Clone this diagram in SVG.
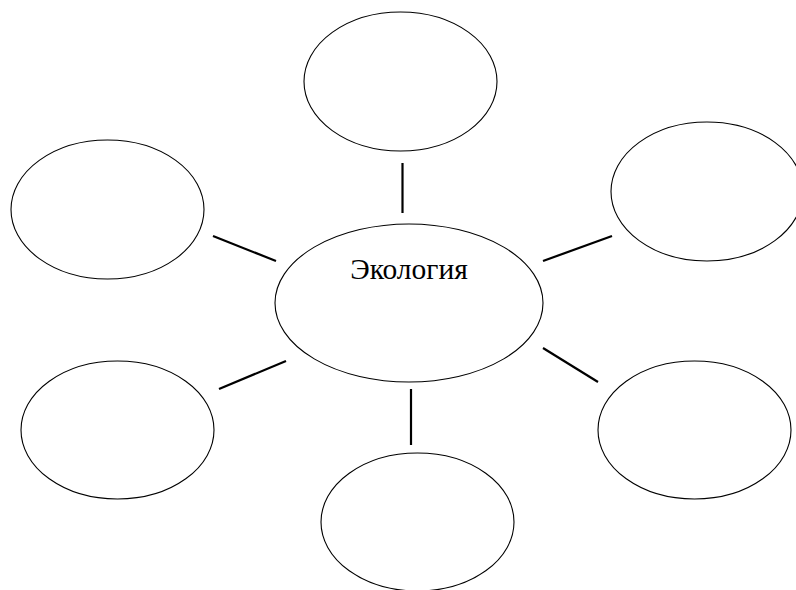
<svg xmlns="http://www.w3.org/2000/svg" width="796" height="590" viewBox="0 0 796 590">
<style>
.n{fill:none;stroke:#000;stroke-width:1.1}
.c line{stroke:#000;stroke-width:2.2}
.t{font-family:"Liberation Serif","Times New Roman",serif;font-size:29.5px;fill:#000}
</style>
<rect width="796" height="590" fill="#fff"/>
<g id="connectors" class="c">
<line x1="402.5" y1="163" x2="402.5" y2="213"/>
<line x1="213" y1="236" x2="276" y2="261"/>
<line x1="543" y1="261" x2="612" y2="236"/>
<line x1="219" y1="389" x2="286" y2="361"/>
<line x1="543" y1="348" x2="598" y2="382"/>
<line x1="411" y1="389" x2="411" y2="445"/>
</g>
<g id="center"><ellipse class="n" cx="409" cy="303" rx="134" ry="79"/><text class="t" x="409" y="279" text-anchor="middle">Экология</text></g>
<g id="top"><ellipse class="n" cx="400.5" cy="81.5" rx="96.5" ry="69.5"/></g>
<g id="topRight"><ellipse class="n" cx="707" cy="191.5" rx="96" ry="69.5"/></g>
<g id="left"><ellipse class="n" cx="107.5" cy="209.5" rx="96.5" ry="69.5"/></g>
<g id="bottomLeft"><ellipse class="n" cx="117.5" cy="430" rx="96.5" ry="69"/></g>
<g id="bottomRight"><ellipse class="n" cx="694.5" cy="430" rx="96.5" ry="69"/></g>
<g id="bottom"><ellipse class="n" cx="417.5" cy="522" rx="96.5" ry="69"/></g>
</svg>
